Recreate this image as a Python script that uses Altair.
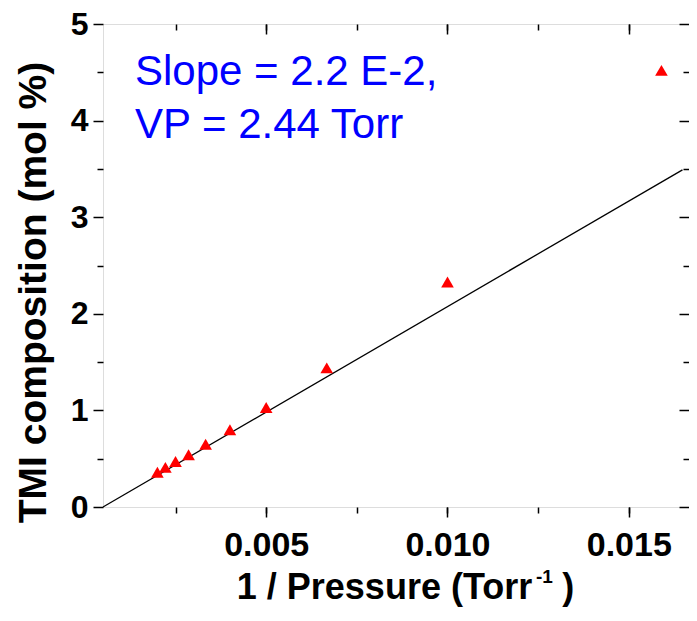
import altair as alt
import pandas as pd

# Data
inv_pressure = [0.0020, 0.00222, 0.0025, 0.00286, 0.00333, 0.0040, 0.0050, 0.00667, 0.0100, 0.0159]
tmi_mol_pct = [0.36, 0.41, 0.47, 0.54, 0.65, 0.80, 1.03, 1.44, 2.33, 4.52]

fit_x = [0.0005, 0.01648]
fit_y = [0.0, 3.49]

x_major = [0.005, 0.010, 0.015]
x_minor = [0.0025, 0.0050, 0.0075, 0.0100, 0.0125, 0.0150]
y_major = [0, 1, 2, 3, 4, 5]
y_minor = [0.5, 1.5, 2.5, 3.5, 4.5]

annotation = "Slope = 2.2 E-2,\nVP = 2.44 Torr"
x_title = "1 / Pressure (Torr\u00a0\u00a0\u00a0)"
x_title_sup = "-1"

W, H = 586, 483
FONT = "Arial, Liberation Sans, sans-serif"

pts = pd.DataFrame({"x": inv_pressure, "y": tmi_mol_pct})
fit = pd.DataFrame({"x": fit_x, "y": fit_y})

xscale = alt.Scale(domain=[0.0005, 0.01666], nice=False, zero=False)
yscale = alt.Scale(domain=[0, 5], nice=False, zero=False)

common_axis = dict(domain=False, grid=False, tickColor="black", tickWidth=1.5)

x_main = alt.Axis(orient="bottom", values=x_major, format=".3f", tickSize=10,
                  labelFont=FONT, labelFontSize=34, labelFontWeight="bold", labelColor="black",
                  labelPadding=11, title=x_title, titleFont=FONT,
                  titleFontSize=36, titleFontWeight="bold", titleColor="black",
                  titleBaseline="alphabetic", titleX=302, titleY=91,
                  **common_axis)
y_main = alt.Axis(orient="left", values=y_major, format="d", tickSize=10,
                  labelFont=FONT, labelFontSize=32, labelFontWeight="bold", labelColor="black",
                  labelPadding=5, title="TMI composition (mol %)", titleFont=FONT,
                  titleFontSize=39, titleFontWeight="bold", titleColor="black", titlePadding=17,
                  titleY=268,
                  **common_axis)

x_min_ax = alt.Axis(orient="bottom", values=x_minor, tickSize=6, labels=False, title=None, **common_axis)
y_min_ax = alt.Axis(orient="left", values=y_minor, tickSize=6, labels=False, title=None, **common_axis)

x_top_major = alt.Axis(orient="bottom", offset=-H, values=x_major, tickSize=10, labels=False, title=None, **common_axis)
y_right_major = alt.Axis(orient="left", offset=-W, values=y_major, tickSize=10, labels=False, title=None, **common_axis)
x_top_minor = alt.Axis(orient="bottom", offset=-H, values=x_minor, tickSize=6, labels=False, title=None, **common_axis)
y_right_minor = alt.Axis(orient="left", offset=-W, values=y_minor, tickSize=6, labels=False, title=None, **common_axis)

points = alt.Chart(pts).mark_point(shape="triangle-up", filled=True, color="#ff0000", size=160, opacity=1).encode(
    x=alt.X("x:Q", scale=xscale, axis=x_main),
    y=alt.Y("y:Q", scale=yscale, axis=y_main),
)

line = alt.Chart(fit).mark_line(color="black", strokeWidth=1.3).encode(
    x=alt.X("x:Q", scale=xscale, axis=x_min_ax),
    y=alt.Y("y:Q", scale=yscale, axis=y_min_ax),
)

frame1 = alt.Chart(fit).mark_point(opacity=0).encode(
    x=alt.X("x:Q", scale=xscale, axis=x_top_major),
    y=alt.Y("y:Q", scale=yscale, axis=y_right_major),
)
frame2 = alt.Chart(fit).mark_point(opacity=0).encode(
    x=alt.X("x:Q", scale=xscale, axis=x_top_minor),
    y=alt.Y("y:Q", scale=yscale, axis=y_right_minor),
)

text = alt.Chart(pd.DataFrame({"t": [annotation]})).mark_text(
    align="left", baseline="alphabetic", font=FONT, fontSize=42, color="#0000ff",
    lineBreak="\n", lineHeight=53,
).encode(x=alt.value(32), y=alt.value(61), text="t:N")

sup = alt.Chart(pd.DataFrame({"t": [x_title_sup]})).mark_text(
    align="left", baseline="alphabetic", font=FONT, fontSize=19, fontWeight="bold", color="black",
).encode(x=alt.value(433), y=alt.value(559), text="t:N")

chart = alt.layer(line, points, frame1, frame2, text, sup).resolve_axis(
    x="independent", y="independent"
).resolve_scale(x="shared", y="shared").properties(
    width=W, height=H,
    autosize=alt.AutoSizeParams(type="none"),
    padding={"left": 95, "top": 16, "right": 0, "bottom": 104},
).configure_view(stroke="black", strokeWidth=1.5).configure(background="white")

chart.save("out.html", embed_options={"renderer": "svg", "actions": False})
